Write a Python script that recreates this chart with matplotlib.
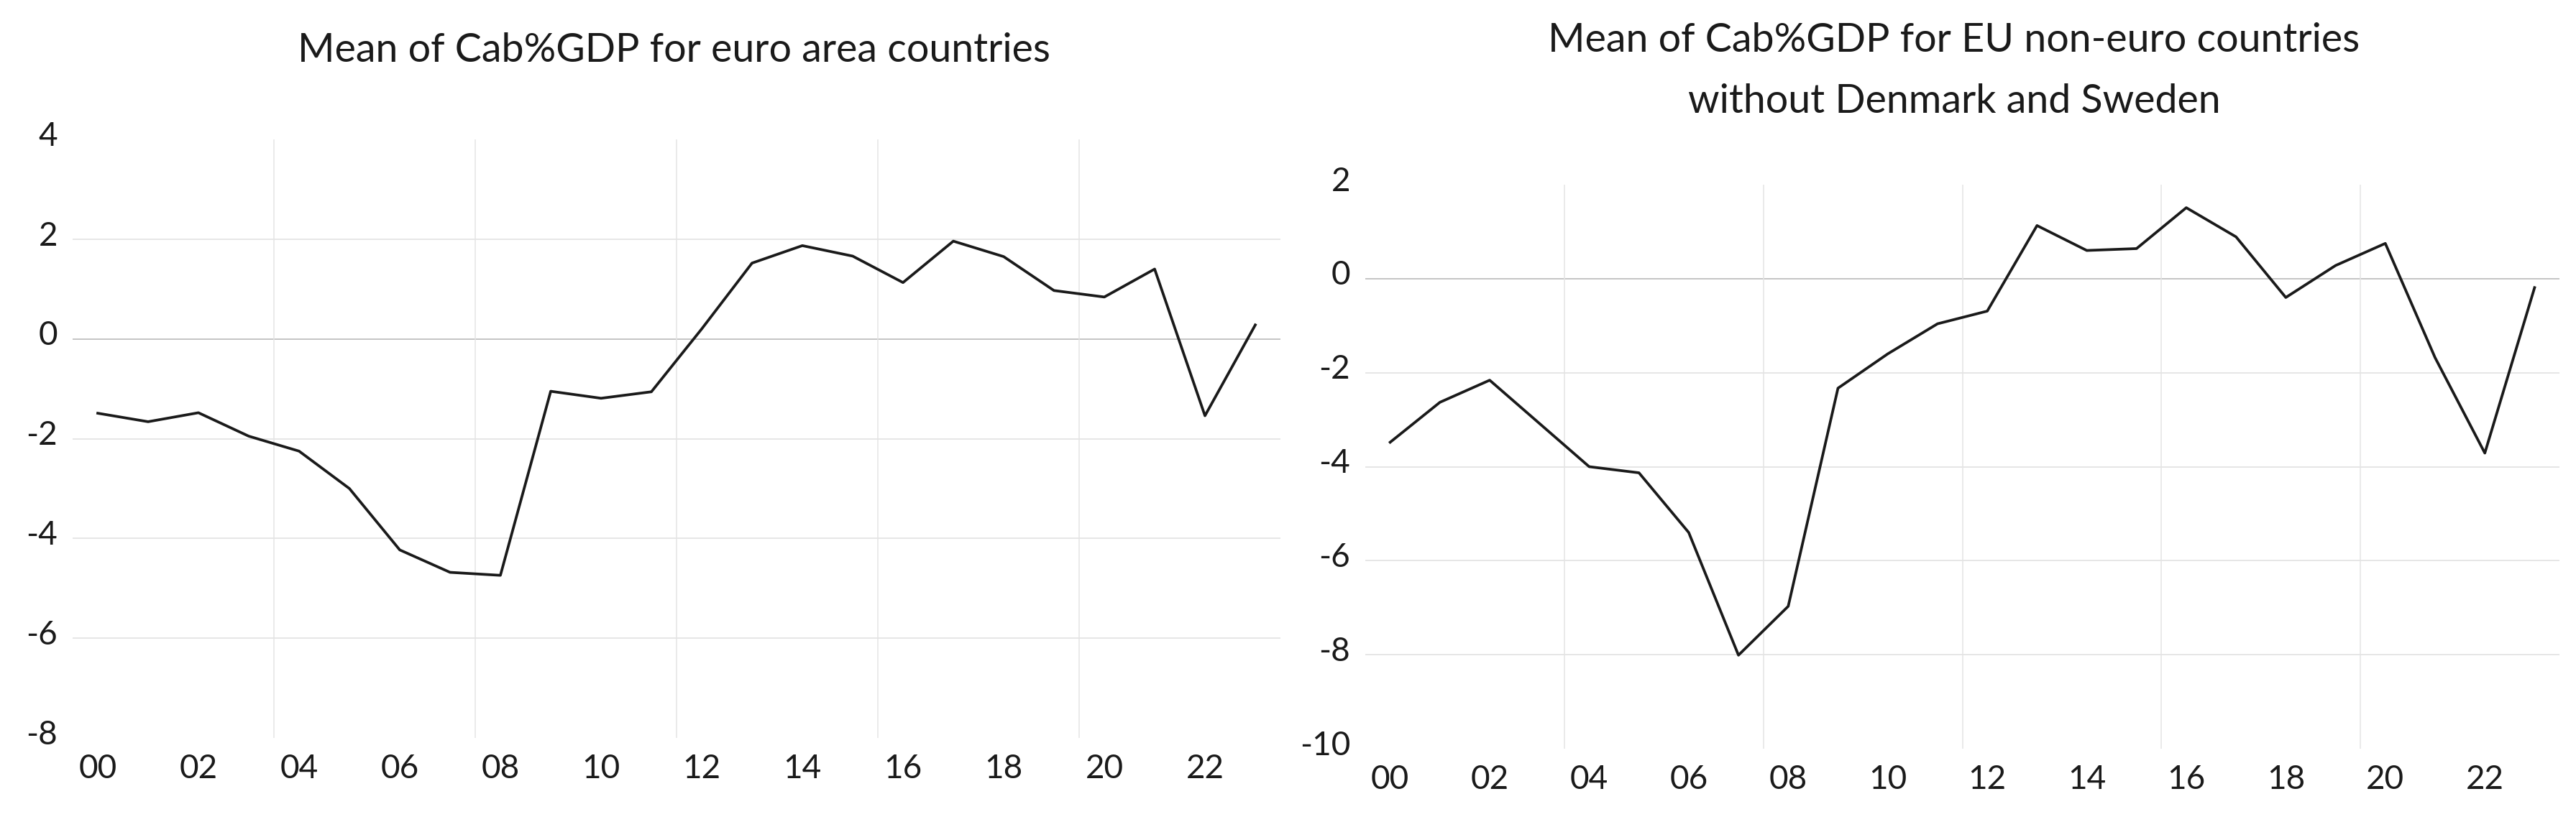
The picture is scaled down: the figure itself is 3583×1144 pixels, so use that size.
import numpy as np
import matplotlib
matplotlib.use('Agg')
import matplotlib.pyplot as plt
from matplotlib.transforms import ScaledTranslation

plt.rcParams['font.family'] = ['Lato', 'DejaVu Sans']
plt.rcParams['axes.unicode_minus'] = False

# Data (years 2000-2023)
years = list(range(2000, 2024))
euro_area = [-1.49, -1.66, -1.48, -1.95, -2.25, -3.00, -4.23, -4.68, -4.74, -1.05,
             -1.19, -1.06, 0.20, 1.52, 1.87, 1.66, 1.13, 1.96, 1.65, 0.97,
             0.84, 1.40, -1.54, 0.28]
non_euro = [-3.48, -2.63, -2.16, -3.08, -4.00, -4.13, -5.40, -8.01, -6.97, -2.33,
            -1.60, -0.96, -0.69, 1.13, 0.60, 0.64, 1.51, 0.89, -0.40, 0.28,
            0.75, -1.68, -3.71, -0.19]
x_labels = ['%02d' % (y % 100) for y in years[::2]]

left_title = 'Mean of Cab%GDP for euro area countries'
right_title = ['Mean of Cab%GDP for EU non-euro countries', 'without Denmark and Sweden']

W, H = 3583, 1144
fig = plt.figure(figsize=(W / 100, H / 100), dpi=100)

def px_axes(left, top, right, bottom):
    return fig.add_axes([left / W, 1 - bottom / H, (right - left) / W, (bottom - top) / H])

ax1 = px_axes(101, 194, 1781, 1027)
ax2 = px_axes(1899, 257, 3560, 1042)

def style(ax, values, ylim, hlines):
    x = np.arange(len(values))
    for v in hlines:
        ax.axhline(v, color='#bfbfbf' if v == 0 else '#e4e4e4', lw=1.3, zorder=1)
    for g in [3.5, 7.5, 11.5, 15.5, 19.5]:
        ax.axvline(g, color='#e4e4e4', lw=1.1, zorder=1)
    ax.plot(x, values, color='#1a1a1a', lw=2.7, zorder=3)
    ax.set_xlim(-0.5, len(values) - 0.5)
    ax.set_ylim(*ylim)
    ax.set_yticks(np.arange(ylim[0], ylim[1] + 1, 2))
    ax.set_xticks(x[::2])
    ax.set_xticklabels(x_labels)
    ax.tick_params(length=0, labelsize=33, colors='#1a1a1a')
    ax.tick_params(axis='y', pad=15)
    ax.tick_params(axis='x', pad=16)
    for s in ax.spines.values():
        s.set_visible(False)
    off = ScaledTranslation(0, 6 / 72, fig.dpi_scale_trans)
    for lab in ax.get_yticklabels():
        lab.set_transform(lab.get_transform() + off)

style(ax1, euro_area, (-8, 4), [2, 0, -2, -4, -6])
style(ax2, non_euro, (-10, 2), [0, -2, -4, -6, -8])

fig.text(937 / W, 1 - 86 / H, left_title, ha='center', va='baseline',
         fontsize=40, color='#1a1a1a')
fig.text(2718 / W, 1 - 72 / H, right_title[0], ha='center', va='baseline',
         fontsize=40, color='#1a1a1a')
fig.text(2718 / W, 1 - 157 / H, right_title[1], ha='center', va='baseline',
         fontsize=40, color='#1a1a1a')

fig.savefig('out.png', dpi=100)
